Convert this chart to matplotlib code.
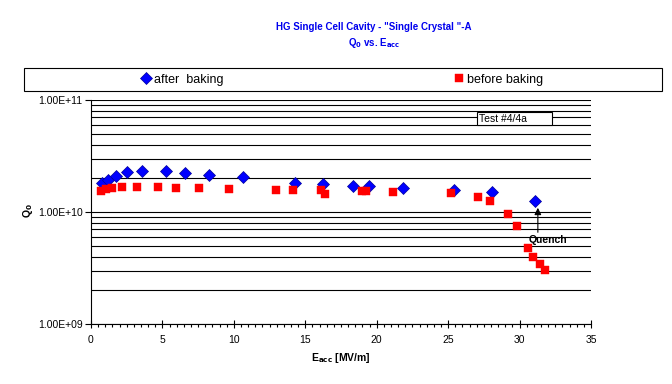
import matplotlib
matplotlib.use("Agg")
import matplotlib.pyplot as plt
from matplotlib.patches import Rectangle
from matplotlib.ticker import LogLocator, FixedLocator, MultipleLocator, FuncFormatter, NullFormatter

plt.rcParams['font.family'] = ['Liberation Sans', 'DejaVu Sans']

# after baking (blue diamonds)
after_e = [0.75, 1.21, 1.75, 2.50, 3.59, 5.27, 6.60, 8.28, 10.64, 14.28, 16.26,
           18.36, 19.48, 21.86, 25.43, 28.09, 31.10]
after_q = [1.81e10, 1.95e10, 2.08e10, 2.26e10, 2.31e10, 2.31e10, 2.21e10, 2.12e10,
           2.04e10, 1.81e10, 1.77e10, 1.70e10, 1.70e10, 1.65e10, 1.56e10, 1.50e10, 1.26e10]

# before baking (red squares)
before_e = [0.68, 1.05, 1.47, 2.15, 3.20, 4.67, 5.95, 7.54, 9.66, 12.95, 14.12,
            16.10, 16.38, 18.95, 19.23, 21.12, 25.18, 27.09, 27.93, 29.19, 29.82,
            30.59, 30.92, 31.41, 31.78]
before_q = [1.54e10, 1.59e10, 1.63e10, 1.67e10, 1.67e10, 1.67e10, 1.63e10, 1.63e10,
            1.59e10, 1.56e10, 1.56e10, 1.56e10, 1.44e10, 1.54e10, 1.54e10, 1.50e10,
            1.48e10, 1.36e10, 1.25e10, 9.55e9, 7.46e9, 4.73e9, 3.93e9, 3.41e9, 3.01e9]

x_ticks = [0, 5, 10, 15, 20, 25, 30, 35]
y_ticks = [1e9, 1e10, 1e11]

W, H = 672, 384
fig = plt.figure(figsize=(W / 100, H / 100), dpi=100)
ax = fig.add_axes([91 / W, 1 - 324 / H, 500 / W, 224 / H])

ax.set_yscale('log')
ax.set_xlim(0, 35)
ax.set_ylim(1e9, 1e11)

# gridlines
ax.yaxis.set_major_locator(FixedLocator(y_ticks))
ax.yaxis.set_minor_locator(LogLocator(base=10, subs=range(2, 10)))
ax.yaxis.set_minor_formatter(NullFormatter())
ax.yaxis.set_major_formatter(FuncFormatter(lambda v, p: f"{v:.2E}"))
ax.grid(True, which='both', axis='y', color='black', linewidth=0.8)
ax.set_axisbelow(True)

ax.xaxis.set_major_locator(FixedLocator(x_ticks))
ax.xaxis.set_minor_locator(MultipleLocator(0.5))

for s in ['top', 'right']:
    ax.spines[s].set_visible(False)
for s in ['left', 'bottom']:
    ax.spines[s].set_color('black')
    ax.spines[s].set_linewidth(0.8)

ax.tick_params(axis='y', which='major', direction='out', length=4, width=0.8, labelsize=7.5, pad=2)
ax.tick_params(axis='y', which='minor', length=0)
ax.tick_params(axis='x', which='major', direction='inout', length=6, width=0.8, labelsize=7.5, pad=5)
ax.tick_params(axis='x', which='minor', direction='out', length=2.5, width=0.8)

ha, = ax.plot(after_e, after_q, linestyle='none', marker='D', markersize=6.5,
              markerfacecolor='#0000FF', markeredgecolor='#000099', markeredgewidth=0.5,
              label='after  baking', zorder=3, clip_on=False)
hb, = ax.plot(before_e, before_q, linestyle='none', marker='s', markersize=6,
              markerfacecolor='#FF0000', markeredgecolor='#FF0000', markeredgewidth=0.3,
              label='before baking', zorder=4, clip_on=False)

# Quench annotation: vertical arrow and label
ax.annotate('', xy=(31.28, 1.09e10), xytext=(31.28, 6.59e9),
            arrowprops=dict(arrowstyle='-|>', color='black', lw=0.8,
                            mutation_scale=10, shrinkA=0, shrinkB=0), zorder=5)
ax.text(32.0, 5.64e9, 'Quench', ha='center', va='center', fontsize=7.5,
        fontweight='bold', zorder=5)

# Test box
fig.patches.append(Rectangle((476.5 / W, 1 - 125 / H), 75 / W, 12.5 / H,
                             transform=fig.transFigure, facecolor='white',
                             edgecolor='black', linewidth=0.8, zorder=5))
fig.text(479 / W, 1 - 119 / H, 'Test #4/4a', fontsize=7.5, va='center', ha='left', zorder=6)

# Labels
ax.set_xlabel('E$_{\\mathbf{acc}}$ [MV/m]', fontsize=7.5, fontweight='bold', labelpad=4)
fig.text(28 / W, 1 - 211 / H, 'Q$_\\mathbf{0}$', fontsize=7.5, fontweight='bold',
         ha='center', va='center', rotation=90)

fig.text(374 / W, 1 - 27 / H, 'HG Single Cell Cavity - "Single Crystal "-A', color='#0000EE',
         fontsize=7, fontweight='bold', ha='center', va='center')
fig.text(374 / W, 1 - 43.5 / H, 'Q$_\\mathbf{0}$ vs. E$_{\\mathbf{acc}}$', color='#0000EE',
         fontsize=7, fontweight='bold', ha='center', va='center')

# Legend box
fig.patches.append(Rectangle((24 / W, 1 - 90.7 / H), (662 - 24) / W, 23 / H,
                             transform=fig.transFigure, facecolor='white',
                             edgecolor='black', linewidth=0.8))
fig.legend(handles=[ha, hb], loc='center', bbox_to_anchor=(341.5 / W, 1 - 79.5 / H),
           ncol=2, frameon=False, fontsize=9, columnspacing=18.4, handletextpad=0.1,
           handlelength=1.0, borderaxespad=0)

fig.savefig('out.png', dpi=100)
